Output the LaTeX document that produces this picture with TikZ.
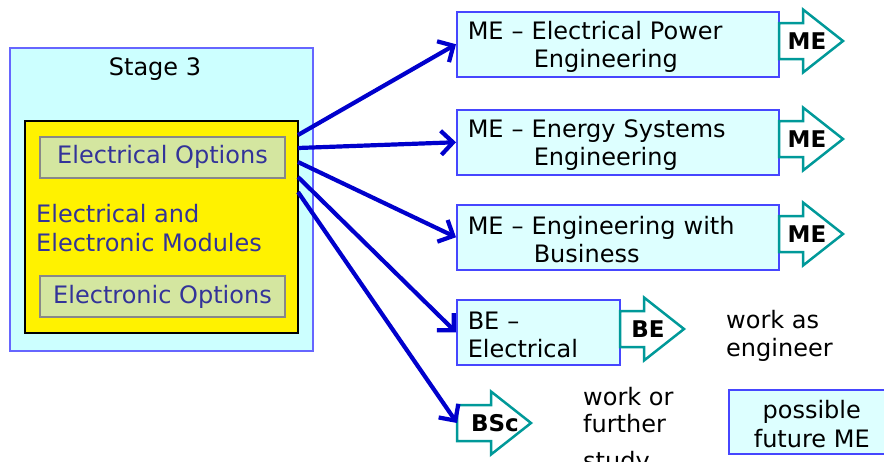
\documentclass[tikz,border=0pt]{standalone}
\usepackage{fontspec}
\setmainfont{DejaVu Sans}
\usetikzlibrary{arrows.meta}
\definecolor{stagefill}{RGB}{204,255,255}
\definecolor{stageline}{RGB}{102,102,255}
\definecolor{boxfill}{RGB}{221,255,255}
\definecolor{boxline}{RGB}{70,70,255}
\definecolor{optfill}{RGB}{212,230,160}
\definecolor{optline}{RGB}{136,136,136}
\definecolor{modtext}{RGB}{51,51,153}
\definecolor{fatline}{RGB}{0,153,153}
\definecolor{arrblue}{RGB}{0,0,204}
\newcommand{\bigfont}{\fontsize{24}{28.5}\selectfont}
\newcommand{\topstrut}{\rule{0pt}{23pt}}
\newcommand{\fatarrow}[5]{%
  \draw[fatstyle] (#2,{#3-18}) -- ({#2+#4},{#3-18}) -- ({#2+#4},{#3-31.5}) -- ({#2+#4+40},#3)
     -- ({#2+#4},{#3+31.5}) -- ({#2+#4},{#3+18}) -- (#2,{#3+18}) -- cycle;
  \coordinate (#1) at (#2,#3);
  \node[fattext] (#1-t) at ({#2+#4+4},#3) {#5};}
\tikzset{
  txt/.style={font=\bigfont, inner sep=0pt},
  rbox/.style={draw=boxline, line width=1.5pt, fill=boxfill, rectangle, anchor=north west,
     minimum height=65pt, inner xsep=11pt, inner ysep=0pt, align=left, font=\bigfont},
  optbox/.style={draw=optline, line width=2pt, fill=optfill, rectangle, minimum width=245pt,
     minimum height=41pt, font=\bigfont, text=modtext, inner sep=0pt},
  fatstyle/.style={draw=fatline, line width=2.5pt, fill=white, line join=miter},
  fattext/.style={font=\fontsize{23}{27}\selectfont\bfseries, inner sep=0pt},
  link/.style={draw=arrblue, line width=4.2pt,
     -{Straight Barb[length=12pt,width=24pt,line width=4.2pt]}},
}
\begin{document}
\begin{tikzpicture}[x=1pt,y=-1pt]
\useasboundingbox (0,0) rectangle (884,461);
% left block
\node[draw=stageline, line width=1.2pt, fill=stagefill, rectangle, minimum width=303pt,
  minimum height=303pt, inner sep=0pt] (stage) at (161.5,199.5) {};
\node[txt] (stagelbl) at (155,69) {Stage 3};
\node[draw=black, line width=2.5pt, fill=yellow, rectangle, minimum width=273pt,
  minimum height=212pt, inner sep=0pt] (mods) at (161.5,227) {};
\node[optbox] (elec) at (162.5,157) {Electrical Options};
\node[optbox] (tron) at (162.5,296.5) {Electronic Options};
\node[txt, text=modtext, align=left, anchor=west] (modlbl) at (36,228) {Electrical and\\Electronic Modules};
% right boxes
\node[rbox, minimum width=322pt, text width=300pt] (me1) at (456,11) {\topstrut ME -- Electrical Power\\\hspace*{66pt}Engineering};
\node[rbox, minimum width=322pt, text width=300pt] (me2) at (456,109) {\topstrut ME -- Energy Systems\\\hspace*{66pt}Engineering};
\node[rbox, minimum width=322pt, text width=300pt] (me3) at (456,204) {\topstrut ME -- Engineering with\\\hspace*{66pt}Business};
\node[rbox, minimum width=163pt, text width=141pt] (be) at (456,299) {\topstrut BE --\\Electrical};
\node[draw=boxline, line width=1.5pt, fill=boxfill, rectangle, anchor=north west,
  minimum width=166pt, minimum height=64pt, inner sep=0pt, align=center, font=\bigfont] (fut) at (728,389) {\topstrut possible\\future ME};
% fat arrows
\fatarrow{a1}{779}{41}{24}{ME}
\fatarrow{a2}{779}{139}{24}{ME}
\fatarrow{a3}{779}{234}{24}{ME}
\fatarrow{a4}{620}{329}{24}{BE}
\fatarrow{bsc}{457}{423}{34}{BSc}
% free texts
\node[txt, align=left, anchor=west] (work1) at (726,336) {work as\\engineer};
\node[inner sep=0pt, font=\fontsize{24}{27}\selectfont, align=left, anchor=west] (work2) at (583,431) {work or\\further\\[10pt]study};
% connectors
\coordinate (s1) at (298,135);
\coordinate (s2) at (298,148);
\coordinate (s3) at (298,162);
\coordinate (s4) at (298,177);
\coordinate (s5) at (298,192);
\draw[link] (s1) -- (me1.west);
\draw[link] (s2) -- (me2.west);
\draw[link] (s3) -- (me3.west);
\draw[link] (s4) -- (be.west);
\draw[link] (s5) -- (bsc);
\end{tikzpicture}
\end{document}
